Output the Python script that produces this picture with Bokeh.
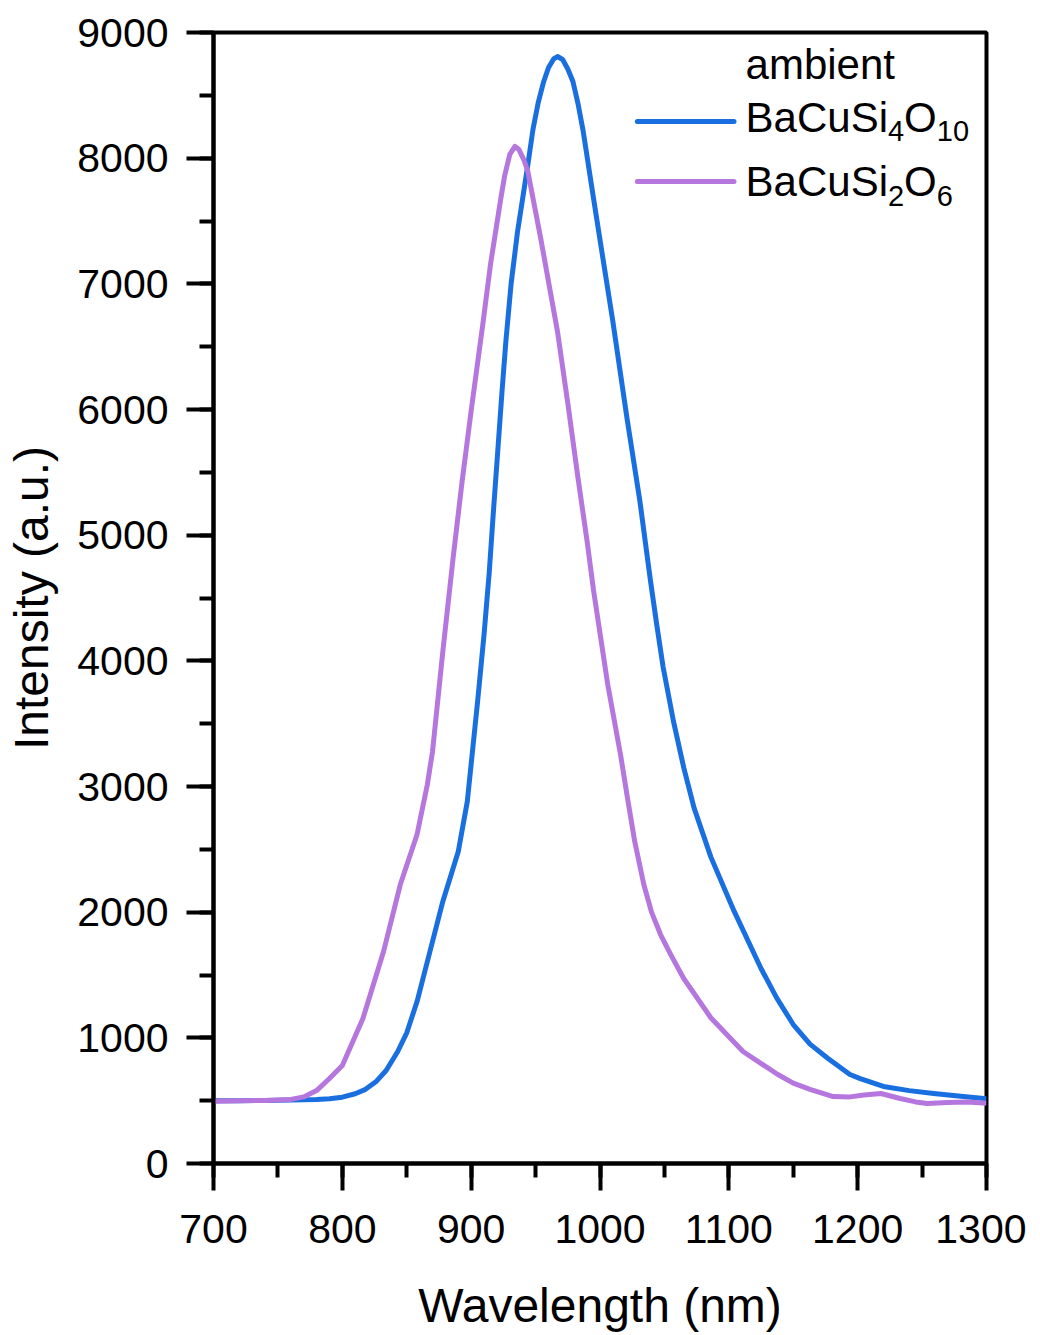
from bokeh.plotting import figure
from bokeh.models import Range1d, SingleIntervalTicker, Label, Arrow
from bokeh.embed import file_html
from bokeh.resources import INLINE

# ---- data ----
blue_wl = [700, 720, 740, 760, 780, 790, 800, 810, 818, 826, 834, 843, 850, 858, 868, 878,
           890, 897, 901, 905, 910, 914, 917, 921, 924, 927, 931, 936, 944, 948, 952, 956,
           960, 964, 967, 971, 975, 979, 983, 987, 995, 1003, 1010, 1021, 1031, 1039, 1044,
           1049, 1057, 1065, 1073, 1086, 1104, 1125, 1137, 1150, 1163, 1177, 1194, 1202, 1220,
           1240, 1259, 1280, 1300]
blue_val = [500, 500, 502, 505, 510, 515, 528, 555, 590, 650, 740, 891, 1040, 1289, 1687, 2085,
            2483, 2881, 3278, 3676, 4209, 4700, 5150, 5720, 6150, 6550, 7000, 7416, 7949, 8230, 8440, 8600,
            8720, 8790, 8809, 8785, 8710, 8610, 8430, 8212, 7679, 7154, 6700, 5928, 5268, 4650, 4290,
            3950, 3520, 3150, 2830, 2440, 2010, 1552, 1320, 1106, 950, 836, 708, 676, 613,
            580, 557, 535, 515]

purple_wl = [700, 720, 740, 760, 770, 780, 790, 800, 816, 832, 845, 858, 866, 870, 878, 886,
             893, 900, 909, 915, 923, 926, 930, 934, 937, 941, 944, 954, 967, 975, 983, 990,
             995, 1006, 1016, 1021, 1027, 1034, 1040, 1047, 1055, 1065, 1086, 1111, 1138, 1150,
             1163, 1181, 1194, 1205, 1218, 1233, 1245, 1254, 1270, 1285, 1300]
purple_val = [495, 500, 502, 510, 530, 580, 676, 780, 1154, 1687, 2220, 2618, 3016, 3278, 4074, 4820,
              5430, 5990, 6676, 7154, 7679, 7860, 8030, 8093, 8070, 7985, 7894, 7361, 6621, 6050, 5450, 4950,
              4560, 3812, 3250, 2930, 2560, 2220, 2000, 1822, 1660, 1472, 1160, 891, 708, 640,
              590, 533, 530, 545, 557, 517, 490, 477, 485, 490, 480]

x_label = "Wavelength (nm)"
y_label = "Intensity (a.u.)"
legend_title = "ambient"
series_names = [("BaCuSi", "4", "O", "10"), ("BaCuSi", "2", "O", "6")]
colors = ["#1a6fe0", "#b577de"]

FONT = "Liberation Sans"

p = figure(frame_width=773, frame_height=1131,
           x_range=Range1d(700, 1300), y_range=Range1d(0, 9000),
           output_backend="svg", toolbar_location=None,
           min_border_left=213, min_border_right=40, min_border_top=32, min_border_bottom=170)

p.xgrid.visible = False
p.ygrid.visible = False
p.outline_line_color = "black"
p.outline_line_width = 4
p.outline_line_alpha = 1.0
p.background_fill_color = "white"
p.border_fill_color = "white"

p.line(blue_wl, blue_val, line_color=colors[0], line_width=5, line_join="round")
p.line(purple_wl, purple_val, line_color=colors[1], line_width=5, line_join="round")

p.xaxis.ticker = SingleIntervalTicker(interval=100, num_minor_ticks=2)
p.yaxis.ticker = SingleIntervalTicker(interval=1000, num_minor_ticks=2)

for ax in (p.xaxis[0], p.yaxis[0]):
    ax.axis_line_width = 4
    ax.axis_line_color = "black"
    ax.major_tick_line_width = 4
    ax.minor_tick_line_width = 4
    ax.major_tick_line_color = "black"
    ax.minor_tick_line_color = "black"
    ax.major_tick_in = 0
    ax.major_tick_out = 27
    ax.minor_tick_in = 0
    ax.minor_tick_out = 14
    ax.major_label_text_font = FONT
    ax.major_label_text_font_size = "41px"
    ax.major_label_text_color = "black"
    ax.axis_label_text_font = FONT
    ax.axis_label_text_font_size = "48px"
    ax.axis_label_text_font_style = "normal"
    ax.axis_label_text_color = "black"

p.xaxis.axis_label = x_label
p.yaxis.axis_label = y_label
p.xaxis.major_label_standoff = 24
p.yaxis.major_label_standoff = 18
p.xaxis.axis_label_standoff = 33
p.yaxis.axis_label_standoff = 16

# ---- legend (drawn manually to allow subscripts) ----
leg_x0, leg_x1 = 1029, 1104
leg_text_x = 1113
leg_title_y = 8745
leg_line_y = [8292, 7814]
leg_text_y = [8324, 7814]

p.add_layout(Label(x=leg_text_x, y=leg_title_y, text=legend_title, text_font=FONT,
                   text_font_size="42px", text_baseline="alphabetic", text_color="black"))

main_size = 42
sub_size = 29
for i, (a, s1, b, s2) in enumerate(series_names):
    p.add_layout(Arrow(start=None, end=None, x_start=leg_x0, y_start=leg_line_y[i],
                       x_end=leg_x1, y_end=leg_line_y[i], line_color=colors[i],
                       line_width=5, line_cap="round"))
    w_a = 3.39 * main_size
    w_s1 = 0.556 * sub_size * len(s1)
    w_b = 0.778 * main_size
    parts = [(a, 0, 0, main_size), (s1, w_a, -14, sub_size),
             (b, w_a + w_s1, 0, main_size), (s2, w_a + w_s1 + w_b, -14, sub_size)]
    for txt, xo, yo, sz in parts:
        p.add_layout(Label(x=leg_text_x, y=leg_text_y[i], x_offset=xo, y_offset=yo,
                           text=txt, text_font=FONT, text_font_size=f"{sz}px",
                           text_baseline="alphabetic", text_color="black"))

open("out.html", "w").write(file_html(p, INLINE))
